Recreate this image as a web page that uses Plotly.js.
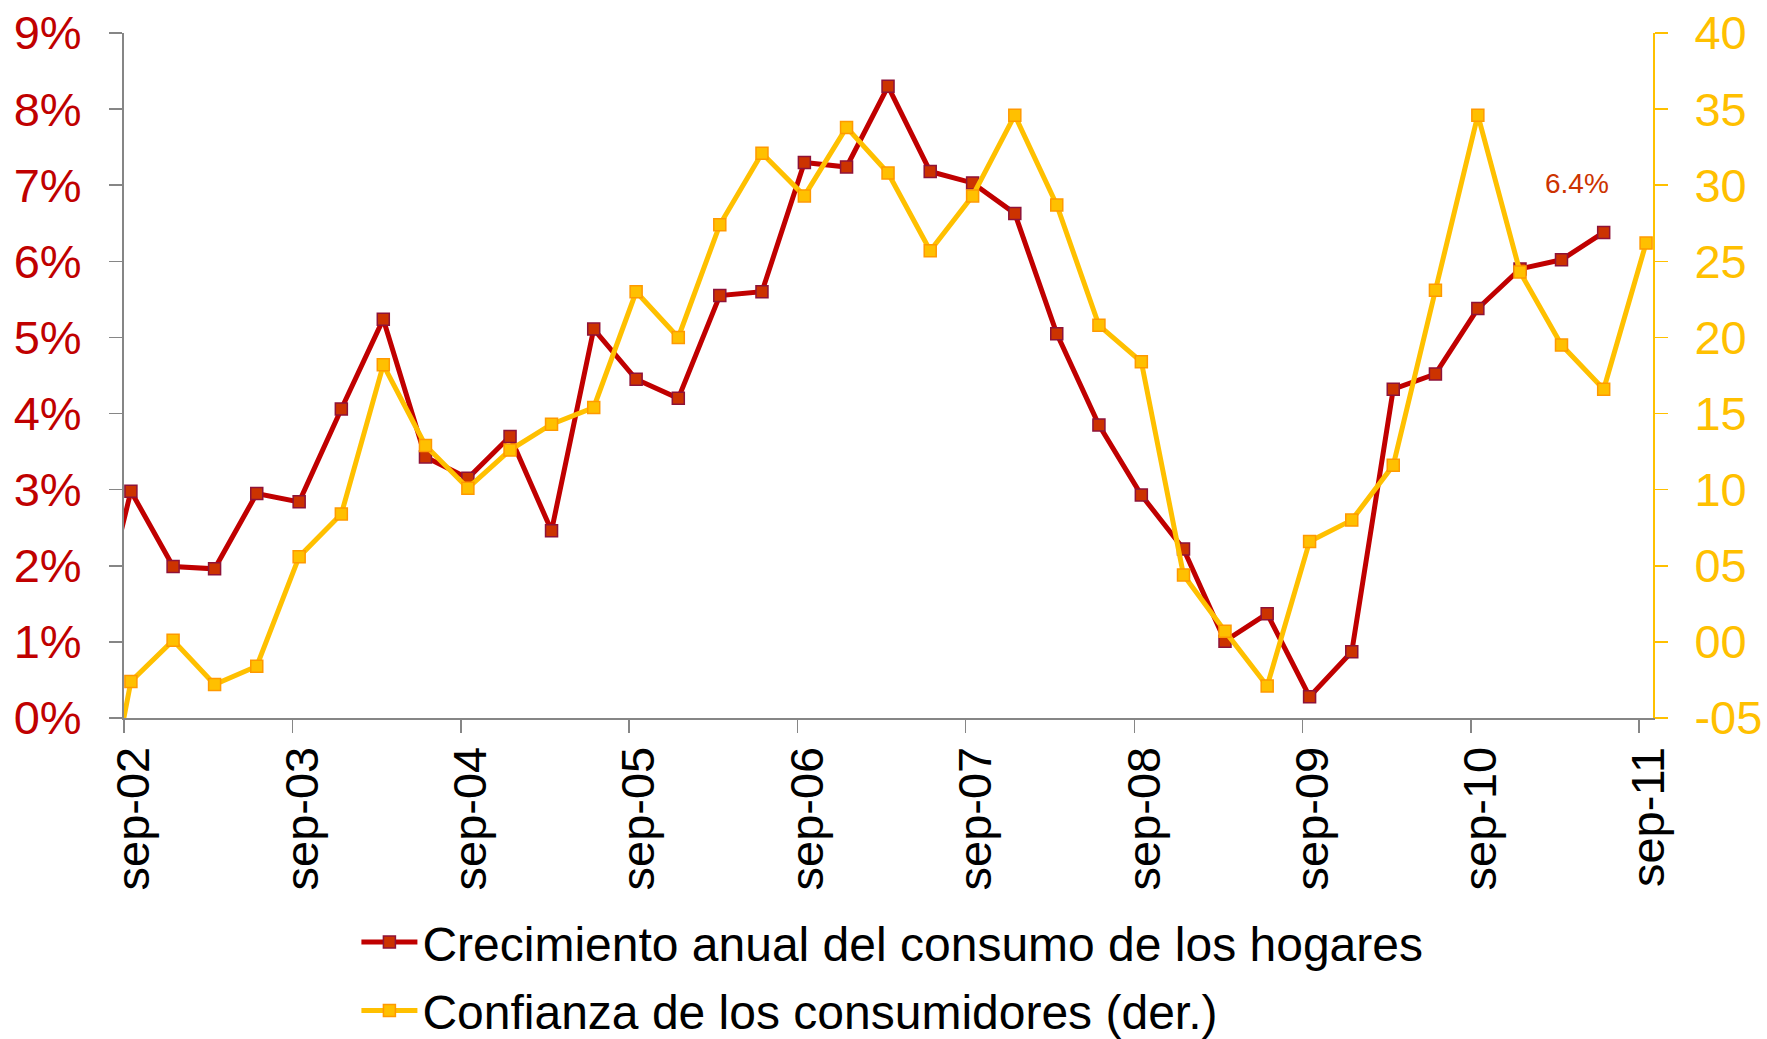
<!DOCTYPE html>
<html>
<head>
<meta charset="utf-8">
<script src="https://cdn.plot.ly/plotly-3.0.1.min.js"></script>
<style>
  html, body { margin: 0; padding: 0; background: #ffffff; }
  #chart { width: 1767px; height: 1039px; }
</style>
</head>
<body>
<div id="chart"></div>
<script>
// Quarterly periods (first one lies just before the visible range)
const quarters = [
  "2002-06","2002-09","2002-12","2003-03","2003-06","2003-09","2003-12",
  "2004-03","2004-06","2004-09","2004-12","2005-03","2005-06","2005-09","2005-12",
  "2006-03","2006-06","2006-09","2006-12","2007-03","2007-06","2007-09","2007-12",
  "2008-03","2008-06","2008-09","2008-12","2009-03","2009-06","2009-09","2009-12",
  "2010-03","2010-06","2010-09","2010-12","2011-03","2011-06","2011-09"
];

// Annual growth of household consumption (%), left axis — ends Jun-11
const consumoHogares = [
  0.70, 2.98, 1.99, 1.96, 2.95, 2.84, 4.06,
  5.24, 3.43, 3.15, 3.70, 2.46, 5.11, 4.45, 4.20,
  5.55, 5.60, 7.30, 7.24, 8.30, 7.18, 7.03, 6.63,
  5.05, 3.85, 2.93, 2.22, 1.01, 1.37, 0.28, 0.87,
  4.32, 4.52, 5.38, 5.90, 6.02, 6.38
];

// Consumer confidence (right axis) — ends Sep-11
const confianzaConsumidores = [
  -17.0, -2.6, 0.1, -2.8, -1.6, 5.6, 8.4,
  18.2, 12.9, 10.1, 12.6, 14.3, 15.4, 23.0, 20.0,
  27.4, 32.1, 29.3, 33.8, 30.8, 25.7, 29.3, 34.6,
  28.7, 20.8, 18.4, 4.4, 0.7, -2.9, 6.6, 8.0,
  11.6, 23.1, 34.6, 24.3, 19.5, 16.6, 26.2
];

const seriesNames = [
  "Crecimiento anual del consumo de los hogares",
  "Confianza de los consumidores (der.)"
];

const xTickVals = ["2002-09-01","2003-09-01","2004-09-01","2005-09-01","2006-09-01",
                   "2007-09-01","2008-09-01","2009-09-01","2010-09-01","2011-09-01"];
const xTickText = ["sep-02","sep-03","sep-04","sep-05","sep-06",
                   "sep-07","sep-08","sep-09","sep-10","sep-11"];

const leftTickVals = [0,1,2,3,4,5,6,7,8,9];
const leftTickText = ["0%","1%","2%","3%","4%","5%","6%","7%","8%","9%"];
const rightTickVals = [-5,0,5,10,15,20,25,30,35,40];
const rightTickText = ["-05","00","05","10","15","20","25","30","35","40"];

const FONT = "Arial, 'Liberation Sans', sans-serif";
const RED = "#C00000";
const GOLD = "#FFC000";
const GRAY = "#868686";

const redDates = quarters.slice(0, consumoHogares.length);
const lastRedDate = redDates[redDates.length - 1];
const lastRedVal = consumoHogares[consumoHogares.length - 1];

const traces = [
  {
    type: "scatter", mode: "lines+markers",
    name: seriesNames[0], legendgroup: "a",
    x: redDates, y: consumoHogares,
    xperiod: "M1", xperiodalignment: "middle",
    yaxis: "y",
    line: { color: RED, width: 5 },
    marker: { symbol: "square", size: 12, color: "#CC3300", line: { color: "#8E1238", width: 1.5 } },
    hoverinfo: "skip"
  },
  {
    type: "scatter", mode: "lines+markers",
    name: seriesNames[1], legendgroup: "b",
    x: quarters, y: confianzaConsumidores,
    xperiod: "M1", xperiodalignment: "middle",
    yaxis: "y2",
    line: { color: GOLD, width: 5 },
    marker: { symbol: "square", size: 12, color: GOLD, line: { color: "#FF9900", width: 1.5 } },
    hoverinfo: "skip"
  }
];

const layout = {
  width: 1767, height: 1039,
  paper_bgcolor: "#ffffff", plot_bgcolor: "#ffffff",
  margin: { l: 124, r: 114, t: 33, b: 321, autoexpand: false },
  font: { family: FONT, size: 47, color: "#000000" },
  showlegend: true,
  legend: {
    orientation: "v",
    x: 0.152, xanchor: "left",
    y: -0.272, yanchor: "top",
    font: { family: FONT, size: 48, color: "#000000" },
    traceorder: "grouped",
    tracegroupgap: 3,
    itemwidth: 56,
    bgcolor: "rgba(0,0,0,0)"
  },
  xaxis: {
    type: "date",
    range: ["2002-09-01", "2011-10-01"],
    tickvals: xTickVals, ticktext: xTickText,
    tickangle: -90,
    tickfont: { family: FONT, size: 47, color: "#000000" },
    ticks: "outside", ticklen: 13, tickwidth: 1.5, tickcolor: GRAY,
    showline: true, linecolor: GRAY, linewidth: 2,
    showgrid: false, zeroline: false,
    automargin: false,
    ticklabelstandoff: -5,
    ticklabelshift: 10
  },
  yaxis: {
    range: [0, 9],
    tickvals: leftTickVals, ticktext: leftTickText,
    tickfont: { family: FONT, size: 47, color: RED },
    ticks: "outside", ticklen: 13, tickwidth: 1.5, tickcolor: GRAY,
    showline: true, linecolor: GRAY, linewidth: 2,
    showgrid: false, zeroline: false,
    automargin: false,
    ticklabelstandoff: 18
  },
  yaxis2: {
    overlaying: "y", side: "right",
    range: [-5, 40],
    tickvals: rightTickVals, ticktext: rightTickText,
    tickfont: { family: FONT, size: 47, color: GOLD },
    ticks: "outside", ticklen: 13, tickwidth: 1.5, tickcolor: GOLD,
    showline: true, linecolor: GOLD, linewidth: 2,
    showgrid: false, zeroline: false,
    automargin: false,
    ticklabelstandoff: 17
  },
  annotations: [
    {
      x: lastRedDate, y: lastRedVal, xref: "x", yref: "y",
      text: lastRedVal.toFixed(1) + "%",
      showarrow: false,
      xanchor: "center", yanchor: "middle",
      xshift: -20, yshift: 49,
      font: { family: FONT, size: 28, color: "#CC3300" }
    }
  ]
};

Plotly.newPlot("chart", traces, layout, { staticPlot: true, displayModeBar: false });
</script>
</body>
</html>
